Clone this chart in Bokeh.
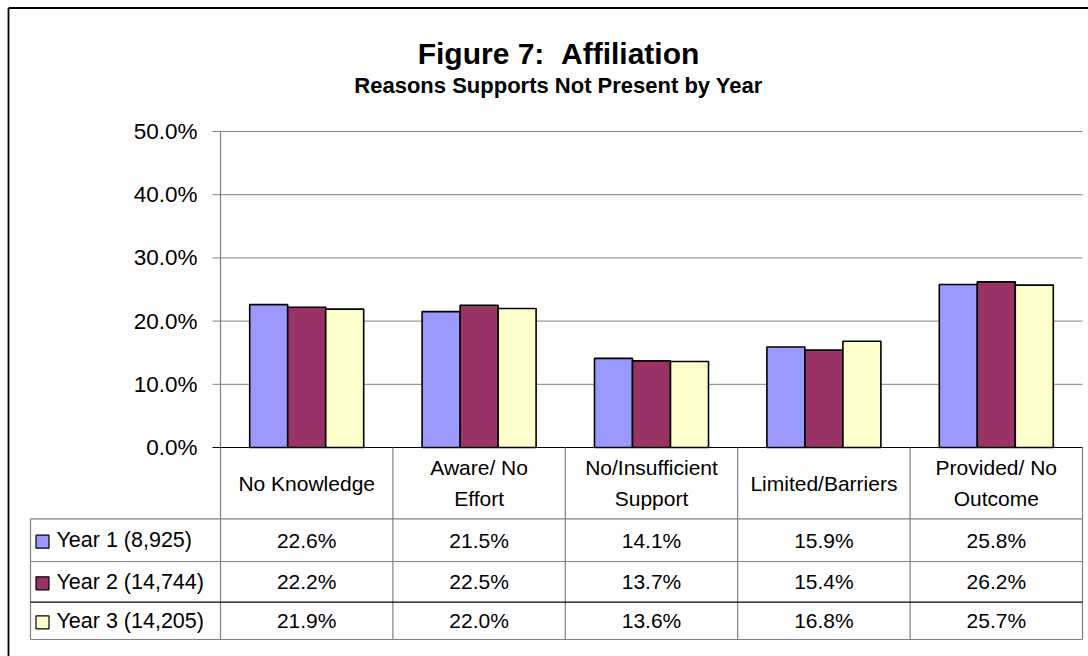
from bokeh.plotting import figure
from bokeh.models import Range1d
from bokeh.core.properties import value
from bokeh.embed import file_html
from bokeh.resources import INLINE

# ---------------- data ----------------
title_text = "Figure 7:  Affiliation"
subtitle_text = "Reasons Supports Not Present by Year"
categories = ["No Knowledge", "Aware/ No\nEffort", "No/Insufficient\nSupport",
              "Limited/Barriers", "Provided/ No\nOutcome"]
series_names = ["Year 1 (8,925)", "Year 2 (14,744)", "Year 3 (14,205)"]
year1 = [0.226, 0.215, 0.141, 0.159, 0.258]
year2 = [0.222, 0.225, 0.137, 0.154, 0.262]
year3 = [0.219, 0.220, 0.136, 0.168, 0.257]
y_ticks = [0.0, 0.1, 0.2, 0.3, 0.4, 0.5]
y_tick_labels = ["0.0%", "10.0%", "20.0%", "30.0%", "40.0%", "50.0%"]

# ---------------- styles / layout ----------------
series = [year1, year2, year3]
colors = ["#9999FF", "#993366", "#FFFFCC"]
FONT = value("Liberation Sans")
W, H = 1088, 656
PX_LEFT, PX_RIGHT = 220, 1082      # plot-area horizontal extent
PX_BASE, PX_TOP = 447, 131         # pixel rows of 0% and 50%
ncat = len(categories)
cat_w = (PX_RIGHT - PX_LEFT) / ncat
ymax = y_ticks[-1]
ypx = (PX_BASE - PX_TOP) / ymax


def px2x(px):
    return (px - PX_LEFT) / cat_w


def py2y(py):
    return (PX_BASE - py) / ypx


p = figure(width=W, height=H,
           x_range=Range1d(px2x(0), px2x(W)),
           y_range=Range1d(py2y(H), py2y(0)),
           output_backend="svg", toolbar_location=None,
           x_axis_location=None, y_axis_location=None, min_border=0)
p.grid.visible = False
p.outline_line_color = None
p.background_fill_color = "white"
p.border_fill_color = "white"

GRID = "#808080"
TICK_PX = 212

# gridlines + ticks
gt = [t for t in y_ticks if t > 0]
p.segment(x0=[px2x(TICK_PX)] * len(gt), x1=[ncat] * len(gt), y0=gt, y1=gt,
          line_color=GRID, line_width=1)

# bars
bw = 38 / cat_w
for j, vals in enumerate(series):
    xs = [i + 0.5 + (j - 1) * bw for i in range(ncat)]
    p.vbar(x=xs, top=vals, bottom=0, width=bw, fill_color=colors[j],
           line_color="black", line_width=1.6)

# table geometry (pixel rows)
HEAD_BOT = 518.3
ROW_BOUNDS = [HEAD_BOT, 561.0, 601.7, 639.0]
LEG_LEFT = 30

# axis line (continues as table divider)
p.segment(x0=[0], x1=[0], y0=[ymax], y1=[py2y(ROW_BOUNDS[-1])],
          line_color=GRID, line_width=1.2)
# zero line
p.segment(x0=[px2x(TICK_PX)], x1=[ncat], y0=[0], y1=[0],
          line_color="black", line_width=1.2)

# table verticals
p.segment(x0=list(range(1, ncat + 1)), x1=list(range(1, ncat + 1)),
          y0=[0] * ncat, y1=[py2y(ROW_BOUNDS[-1])] * ncat,
          line_color=GRID, line_width=1.2)
p.segment(x0=[px2x(LEG_LEFT)], x1=[px2x(LEG_LEFT)],
          y0=[py2y(HEAD_BOT)], y1=[py2y(ROW_BOUNDS[-1])],
          line_color=GRID, line_width=1.2)
# table horizontals
hcols = [GRID, GRID, "black", GRID]
p.segment(x0=[px2x(LEG_LEFT)] * 4, x1=[ncat] * 4,
          y0=[py2y(b) for b in ROW_BOUNDS], y1=[py2y(b) for b in ROW_BOUNDS],
          line_color=hcols, line_width=1.2)

FS = 21

# y tick labels
p.text(x=[px2x(197)] * len(y_ticks), y=y_ticks, text=y_tick_labels,
       text_align="right", text_baseline="middle",
       text_font=FONT, text_font_size=value("22.5px"), text_color="black")

# category labels (header row)
head_mid = (PX_BASE + HEAD_BOT) / 2
LINE_H = 31
cx, cy, ct = [], [], []
for i, c in enumerate(categories):
    lines = c.split("\n")
    n = len(lines)
    for k, ln in enumerate(lines):
        cx.append(i + 0.5)
        cy.append(py2y(head_mid + (k - (n - 1) / 2) * LINE_H))
        ct.append(ln)
p.text(x=cx, y=cy, text=ct, text_align="center", text_baseline="middle",
       text_font=FONT, text_font_size=value(f"{FS}px"), text_color="black")

# value cells
vx, vy, vt = [], [], []
for j, vals in enumerate(series):
    mid = (ROW_BOUNDS[j] + ROW_BOUNDS[j + 1]) / 2
    for i, v in enumerate(vals):
        vx.append(i + 0.5)
        vy.append(py2y(mid))
        vt.append(f"{v * 100:.1f}%")
p.text(x=vx, y=vy, text=vt, text_align="center", text_baseline="middle",
       text_font=FONT, text_font_size=value(f"{FS}px"), text_color="black")

# legend keys + names
mids = [(ROW_BOUNDS[j] + ROW_BOUNDS[j + 1]) / 2 for j in range(3)]
p.scatter(x=[px2x(42)] * 3, y=[py2y(m + 1.5) for m in mids], marker="square",
          size=13, fill_color=colors, line_color="black", line_width=1.2)
p.text(x=[px2x(56)] * 3, y=[py2y(m) for m in mids], text=series_names,
       text_align="left", text_baseline="middle",
       text_font=FONT, text_font_size=value("21.5px"), text_color="black")

# titles (keep the double space visible in SVG)
shown_title = title_text.replace("  ", " \u00a0")
p.text(x=[px2x(558)], y=[py2y(53)], text=[shown_title], text_align="center",
       text_baseline="middle", text_font=FONT, text_font_size=value("30px"),
       text_font_style="bold", text_color="black")
p.text(x=[px2x(558)], y=[py2y(85)], text=[subtitle_text], text_align="center",
       text_baseline="middle", text_font=FONT, text_font_size=value("22px"),
       text_font_style="bold", text_color="black")

# outer chart border (left and top edges visible)
p.segment(x0=[px2x(8), px2x(8)], x1=[px2x(8), px2x(W + 5)],
          y0=[py2y(7.5), py2y(7.5)], y1=[py2y(H + 5), py2y(7.5)],
          line_color="black", line_width=1.8)

open("out.html", "w").write(file_html(p, INLINE))
